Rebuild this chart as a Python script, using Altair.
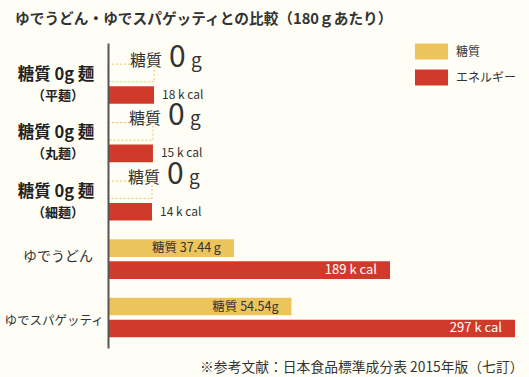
import altair as alt
import pandas as pd

FONT = "Noto Sans CJK JP"

# ---- data ----
items = ["平麺", "丸麺", "細麺", "ゆでうどん", "ゆでスパゲッティ"]
row_title = ["糖質 0g 麺", "糖質 0g 麺", "糖質 0g 麺", "ゆでうどん", "ゆでスパゲッティ"]
row_sub = ["（平麺）", "（丸麺）", "（細麺）", "", ""]
sugar_g = [0, 0, 0, 37.44, 54.54]
energy_kcal = [18, 15, 14, 189, 297]
# bar lengths as drawn in the picture (on the 297 kcal scale)
energy_bar = [33.6, 32.8, 32.1, 205.8, 297]
sugar_text = ["", "", "", "糖質 37.44 g", "糖質 54.54g"]
energy_text = ["18 k cal", "15 k cal", "14 k cal", "189 k cal", "297 k cal"]
series = ["糖質", "エネルギー"]
colors = ["#ecc45c", "#d03a2a"]
title_text = "ゆでうどん・ゆでスパゲッティとの比較（180ｇあたり）"
footnote = "※参考文献：日本食品標準成分表 2015年版（七訂）"

df = pd.DataFrame({
    "item": items, "title": row_title, "sub": row_sub,
    "sugar": sugar_g, "energy": energy_kcal, "ebar": energy_bar,
    "stext": sugar_text, "etext": energy_text,
})

Y = alt.Y("item:N", sort=items,
          scale=alt.Scale(paddingInner=0, paddingOuter=0.112, align=0.9),
          axis=alt.Axis(title=None, labels=False, ticks=False, grid=False,
                        domainColor="#555555", domainWidth=2, zindex=1))
OFF = alt.Scale(domain=series, paddingInner=0.2, paddingOuter=0.427)
XS = alt.Scale(domain=[0, 121], nice=False, zero=True)
XE = alt.Scale(domain=[0, 297], nice=False, zero=True)

color = alt.Color("s:N", scale=alt.Scale(domain=series, range=colors),
                  legend=alt.Legend(title=None, orient="none", legendX=309.5, legendY=-5.5,
                                    symbolType="M-1.18,-0.57H1.18V0.57H-1.18Z",
                                    symbolSize=784, symbolStrokeWidth=0, symbolOpacity=1,
                                    labelOffset=10.5, rowPadding=4, padding=0,
                                    labelFontSize=12, labelColor="#333333", labelLimit=200))

foot_axis = alt.Axis(title=footnote, labels=False, ticks=False, domain=False, grid=False,
                     titleFontSize=13.8, titleFontWeight="normal", titleColor="#333333",
                     titleX=415, titleY=19, titleAlign="right", titleBaseline="middle")

base = alt.Chart(df)
sug = base.transform_filter("datum.sugar > 0").transform_calculate(s="'糖質'")
zero = base.transform_filter("datum.sugar == 0").transform_calculate(s="'糖質'")
ene = base.transform_calculate(s="'エネルギー'")

energy_bars = ene.mark_bar().encode(
    x=alt.X("ebar:Q", scale=XE, axis=foot_axis), y=Y,
    yOffset=alt.YOffset("s:N", scale=OFF), color=color)

sugar_bars = sug.mark_bar().encode(
    x=alt.X("sugar:Q", scale=XS, axis=None), y=Y,
    yOffset=alt.YOffset("s:N", scale=OFF), color=color)

boxes = zero.mark_bar(fillOpacity=0, stroke=colors[0], strokeDash=[2, 2], strokeWidth=1).encode(
    x=alt.X("ebar:Q", scale=XE, axis=None), y=Y,
    yOffset=alt.YOffset("s:N", scale=OFF))

z1 = zero.mark_text(align="right", baseline="middle", dx=8, dy=-12, fontSize=16, color="#333333").encode(
    x=alt.X("ebar:Q", scale=XE, axis=None), y=Y, yOffset=alt.YOffset("s:N", scale=OFF), text="s:N")
z2 = zero.mark_text(align="left", baseline="alphabetic", dx=15, dy=-6, fontSize=30, color="#333333").encode(
    x=alt.X("ebar:Q", scale=XE, axis=None), y=Y, yOffset=alt.YOffset("s:N", scale=OFF),
    text=alt.Text("sugar:Q", format="d"))
z3 = zero.mark_text(align="left", baseline="alphabetic", dx=37, dy=-6, fontSize=19, color="#333333", text="g").encode(
    x=alt.X("ebar:Q", scale=XE, axis=None), y=Y, yOffset=alt.YOffset("s:N", scale=OFF))

s_lab = sug.mark_text(align="right", baseline="middle", dx=-13, fontSize=12.5, color="#333333").encode(
    x=alt.X("sugar:Q", scale=XS, axis=None), y=Y, yOffset=alt.YOffset("s:N", scale=OFF), text="stext:N")

e_out = ene.transform_filter("datum.ebar < 100").mark_text(
    align="left", baseline="middle", dx=8, fontSize=12, color="#333333").encode(
    x=alt.X("ebar:Q", scale=XE, axis=None), y=Y, yOffset=alt.YOffset("s:N", scale=OFF), text="etext:N")
e_in = ene.transform_filter("datum.ebar >= 100").mark_text(
    align="right", baseline="middle", dx=-13, fontSize=13, color="white").encode(
    x=alt.X("ebar:Q", scale=XE, axis=None), y=Y, yOffset=alt.YOffset("s:N", scale=OFF), text="etext:N")

l_main = base.transform_filter("datum.sugar == 0").mark_text(
    align="center", baseline="middle", dy=-9, fontSize=16.5, fontWeight="bold", color="#222222").encode(
    x=alt.value(-52), y=Y, text="title:N")
l_sub = base.transform_filter("datum.sugar == 0").mark_text(
    align="center", baseline="middle", dy=12, fontSize=13, fontWeight="bold", color="#222222").encode(
    x=alt.value(-50), y=Y, text="sub:N")
l_udon = base.transform_filter("datum.item == 'ゆでうどん'").mark_text(
    align="center", baseline="middle", dy=-2, fontSize=14, color="#333333").encode(
    x=alt.value(-50), y=Y, text="title:N")
l_spa = base.transform_filter("datum.item == 'ゆでスパゲッティ'").mark_text(
    align="center", baseline="middle", dy=3, fontSize=12.5, color="#333333").encode(
    x=alt.value(-54), y=Y, text="title:N")

chart = alt.layer(
    energy_bars, sugar_bars, boxes, z1, z2, z3, s_lab, e_out, e_in,
    l_main, l_sub, l_udon, l_spa
).resolve_scale(x="independent").properties(
    width=407, height=305,
    autosize=alt.AutoSizeParams(type="none"),
    padding={"left": 108, "top": 43, "right": 14, "bottom": 29},
    background="#fffef6",
    title=alt.TitleParams(title_text, anchor="start", dx=-93, offset=11, fontSize=14.7,
                          fontWeight="bold", color="#333333", frame="group"),
).configure(font=FONT).configure_view(stroke=None)

chart.save("out.html", embed_options={"renderer": "svg", "actions": False})
